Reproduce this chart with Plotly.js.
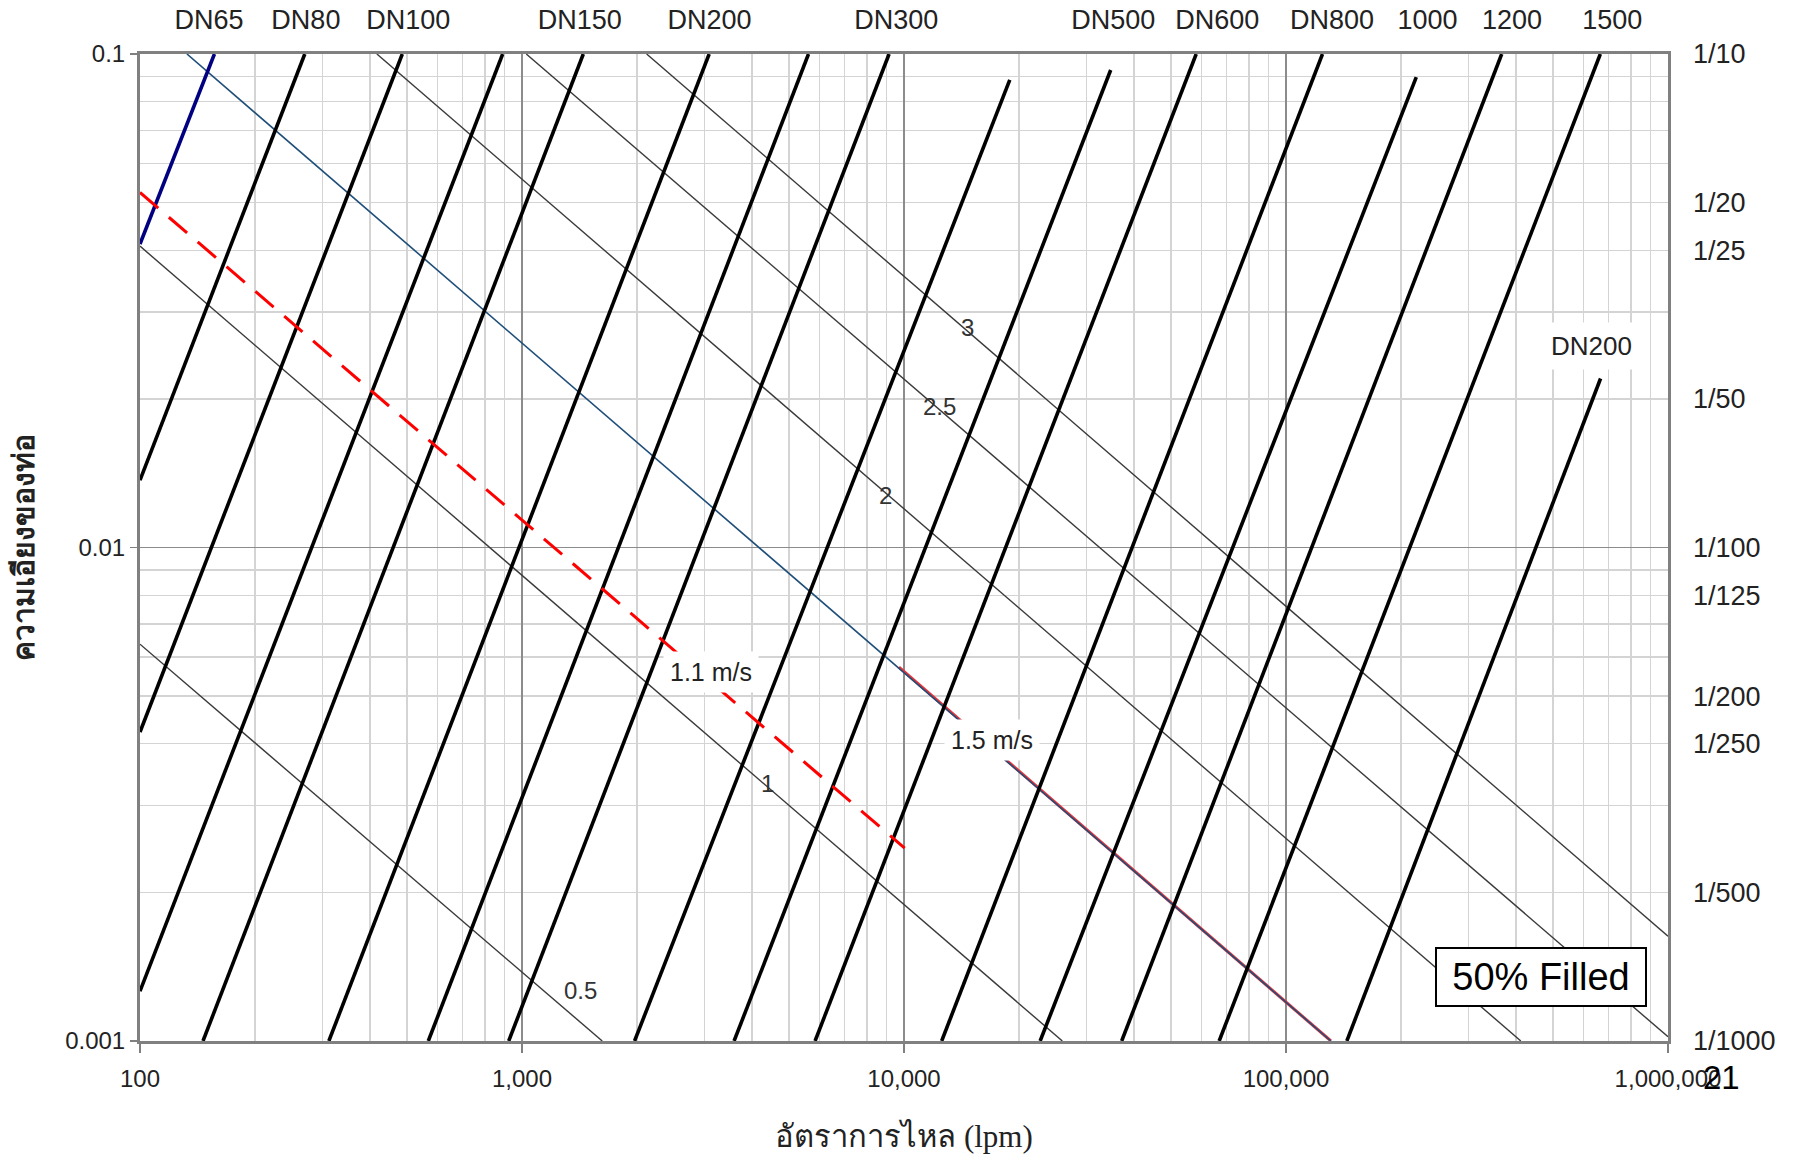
<!DOCTYPE html>
<html>
<head>
<meta charset="utf-8">
<script src="https://cdn.plot.ly/plotly-3.0.1.min.js"></script>
<style>html,body{margin:0;padding:0;background:#fff}</style>
</head>
<body>
<div id="chart" style="width:1797px;height:1154px"></div>
<script>
// Pipe capacity lines at 50% filled: flow (lpm) against pipe slope
const pipeStartQ = [100, 100, 100, 146.2, 312.2, 568.5, 923, 1971, 3591, 5851, 12550, 22720, 37140, 66840, 144300];
const pipeStartS = [0.01369, 0.004228, 0.001262, 0.001, 0.001, 0.001, 0.001, 0.001, 0.001, 0.001, 0.001, 0.001, 0.001, 0.001, 0.001];
const pipeEndQ   = [270, 486, 890, 1447, 3090, 5623, 9140, 18920, 34760, 58200, 124600, 219300, 367000, 665000, 666000];
const pipeEndS   = [0.1, 0.1, 0.1, 0.1, 0.1, 0.1, 0.1, 0.0886, 0.0928, 0.1, 0.1, 0.0898, 0.1, 0.1, 0.022];

// DN65 line (drawn in blue)
const dn65Q = [100, 156.6];
const dn65S = [0.0412, 0.1];

// Constant-velocity lines (m/s)
const velLabels = ['0.5', '1', '2', '2.5', '3'];
const velStartQ = [100, 100, 417, 1026, 2120];
const velStartS = [0.00637, 0.0408, 0.1, 0.1, 0.1];
const velEndQ   = [1622, 25970, 411800, 1000000, 1000000];
const velEndS   = [0.001, 0.001, 0.001, 0.00102, 0.00163];

// 1.1 m/s minimum-velocity line (dashed red)
const v11Q = [100, 10040];
const v11S = [0.0524, 0.00246];

// 1.5 m/s line (blue) and its red companion segment
const v15Q = [132.7, 131100];
const v15S = [0.1, 0.001];
const v15RedQ = [9700, 131100];
const v15RedS = [0.00572, 0.001];

// Top pipe-size labels and right-hand slope labels
const topLabels = ['DN65', 'DN80', 'DN100', 'DN150', 'DN200', 'DN300', 'DN500', 'DN600', 'DN800', '1000', '1200', '1500'];
const topLabelQ = [151.5, 271.8, 503.9, 1416, 3097, 9550, 35300, 66040, 132000, 234700, 390400, 714200];
const slopeText = ['1/10', '1/20', '1/25', '1/50', '1/100', '1/125', '1/200', '1/250', '1/500', '1/1000'];
const slopeVals = [0.1, 0.05, 0.04, 0.02, 0.01, 0.008, 0.005, 0.004, 0.002, 0.001];

// X / Y tick labels
const xTickVals = [100, 1000, 10000, 100000, 1000000];
const xTickText = ['100', '1,000', '10,000', '100,000', '1,000,000'];
const yTickVals = [0.001, 0.01, 0.1];
const yTickText = ['0.001', '0.01', '0.1'];

const FONT = 'Liberation Sans, Arial, Helvetica, sans-serif';
const traces = [];

// thin velocity lines
for (let i = 0; i < velStartQ.length; i++) {
  traces.push({
    type: 'scatter', mode: 'lines', hoverinfo: 'skip', showlegend: false,
    x: [velStartQ[i], velEndQ[i]], y: [velStartS[i], velEndS[i]],
    line: {color: '#3a3a3a', width: 1.4}
  });
}

// red companion under the 1.5 m/s line
traces.push({
  type: 'scatter', mode: 'lines', hoverinfo: 'skip', showlegend: false,
  x: v15RedQ, y: v15RedS, line: {color: '#e8333a', width: 3}
});
// 1.5 m/s line
traces.push({
  type: 'scatter', mode: 'lines', hoverinfo: 'skip', showlegend: false,
  x: v15Q, y: v15S, line: {color: '#1f4e79', width: 1.6}
});

// thick black pipe lines
for (let i = 0; i < pipeStartQ.length; i++) {
  traces.push({
    type: 'scatter', mode: 'lines', hoverinfo: 'skip', showlegend: false,
    x: [pipeStartQ[i], pipeEndQ[i]], y: [pipeStartS[i], pipeEndS[i]],
    line: {color: '#000000', width: 3.6}
  });
}

// DN65 in navy
traces.push({
  type: 'scatter', mode: 'lines', hoverinfo: 'skip', showlegend: false,
  x: dn65Q, y: dn65S, line: {color: '#000080', width: 3.6}
});

// 1.1 m/s dashed red
traces.push({
  type: 'scatter', mode: 'lines', hoverinfo: 'skip', showlegend: false,
  x: v11Q, y: v11S, line: {color: '#ff0000', width: 3, dash: '24px,14px'}
});

// empty trace so the label-only top/right axes exist
traces.push({type: 'scatter', mode: 'none', x: [], y: [], xaxis: 'x2', yaxis: 'y2', showlegend: false, hoverinfo: 'skip'});

const L10 = Math.log10;
function lbl(q, s, text, opts) {
  return Object.assign({
    xref: 'x', yref: 'y', x: L10(q), y: L10(s), text: text, showarrow: false,
    font: {family: FONT, size: 24, color: '#333333'}
  }, opts || {});
}

// velocity labels placed along their lines
const velLabelAt = [[1425, 0.001268], [4393, 0.003331], [8933, 0.01277], [12380, 0.01927], [14660, 0.02797]];
const annotations = velLabels.map((t, i) => lbl(velLabelAt[i][0], velLabelAt[i][1], t));

annotations.push(lbl(Math.pow(10, 3.4936), Math.pow(10, -2.2515), '1.1 m/s',
  {bgcolor: '#ffffff', borderpad: 6, font: {family: FONT, size: 25, color: '#222222'}}));
annotations.push(lbl(Math.pow(10, 4.230), Math.pow(10, -2.3904), '1.5 m/s',
  {bgcolor: '#ffffff', borderpad: 6, font: {family: FONT, size: 25, color: '#222222'}}));
annotations.push(lbl(Math.pow(10, 5.8007), Math.pow(10, -1.5918), 'DN200',
  {bgcolor: '#ffffff', borderpad: 8, font: {family: FONT, size: 26, color: '#222222'}}));
annotations.push(lbl(Math.pow(10, 5.6674), Math.pow(10, -2.8697), '50% Filled',
  {bgcolor: '#ffffff', bordercolor: '#000000', borderwidth: 2, borderpad: 3, width: 202, height: 50,
   font: {family: FONT, size: 38, color: '#000000'}}));
annotations.push({
  xref: 'paper', yref: 'paper', x: 1.0353, y: -0.0365, xanchor: 'center', yanchor: 'middle',
  text: '21', showarrow: false,
  font: {family: FONT, size: 33, color: '#000000'}
});

const layout = {
  width: 1797, height: 1154,
  margin: {l: 140, r: 129, t: 54, b: 113, pad: 0},
  paper_bgcolor: '#ffffff', plot_bgcolor: '#ffffff',
  showlegend: false,
  font: {family: FONT, color: '#222222'},
  xaxis: {
    type: 'log', range: [2, 6], autorange: false, fixedrange: true,
    tickmode: 'array', tickvals: xTickVals, ticktext: xTickText,
    ticks: 'outside', ticklen: 9, tickcolor: '#808080', tickwidth: 1.5,
    ticklabelstandoff: 5,
    tickfont: {family: FONT, size: 24, color: '#222222'},
    showgrid: true, gridcolor: '#8c8c8c', gridwidth: 1.2,
    minor: {dtick: 'D1', showgrid: true, gridcolor: '#d4d4d4', gridwidth: 1.2, ticks: ''},
    showline: true, linecolor: '#808080', linewidth: 3, mirror: true,
    zeroline: false,
    title: {text: 'อัตราการไหล (lpm)', standoff: 36,
            font: {family: 'Liberation Serif, Times New Roman, serif', size: 31, color: '#222222'}}
  },
  yaxis: {
    type: 'log', range: [-3, -1], autorange: false, fixedrange: true,
    tickmode: 'array', tickvals: yTickVals, ticktext: yTickText,
    ticks: 'outside', ticklen: 7, tickcolor: '#808080', tickwidth: 1.5,
    tickfont: {family: FONT, size: 24, color: '#222222'},
    showgrid: true, gridcolor: '#8c8c8c', gridwidth: 1.2,
    minor: {dtick: 'D1', showgrid: true, gridcolor: '#d4d4d4', gridwidth: 1.2, ticks: ''},
    showline: true, linecolor: '#808080', linewidth: 3, mirror: true,
    zeroline: false,
    title: {text: 'ความเอียงของท่อ', standoff: 22,
            font: {family: FONT, size: 30, color: '#222222', weight: 'bold'}}
  },
  xaxis2: {
    type: 'log', range: [2, 6], autorange: false, fixedrange: true,
    overlaying: 'x', side: 'top', anchor: 'y',
    tickmode: 'array', tickvals: topLabelQ, ticktext: topLabels,
    ticks: '', showgrid: false, showline: false, zeroline: false,
    ticklabelstandoff: 19,
    tickfont: {family: FONT, size: 27, color: '#222222'}
  },
  yaxis2: {
    type: 'log', range: [-3, -1], autorange: false, fixedrange: true,
    overlaying: 'y', side: 'right', anchor: 'x',
    tickmode: 'array', tickvals: slopeVals, ticktext: slopeText,
    ticks: '', showgrid: false, showline: false, zeroline: false,
    ticklabelstandoff: 24,
    tickfont: {family: FONT, size: 27, color: '#222222'}
  },
  annotations: annotations
};

Plotly.newPlot('chart', traces, layout, {displayModeBar: false, staticPlot: true});
</script>
</body>
</html>
